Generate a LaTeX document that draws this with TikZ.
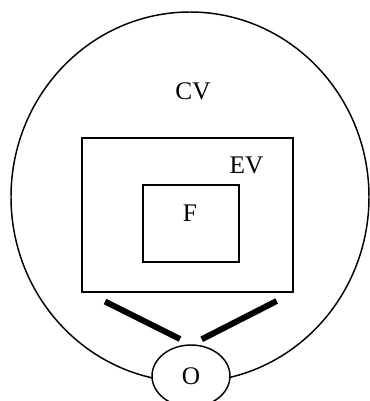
\documentclass[tikz,border=0pt]{standalone}
\usepackage{fontspec}
\setmainfont{Liberation Serif}
\usetikzlibrary{shapes.geometric}
\begin{document}
\begin{tikzpicture}[x=0.75pt, y=-0.75pt, font=\fontsize{19}{23}\selectfont,
	frame/.style={draw, line width=1.5pt, inner sep=0pt},
	bar/.style={line width=4.5pt}]
	\useasboundingbox (0,0) rectangle (369,401);
	\draw [line width=1.1pt] (190,197) ellipse [x radius=179, y radius=185];
	\node [frame, minimum width=158pt, minimum height=115.5pt] (ev) at (187.7,215) {};
	\node [frame, minimum width=72pt, minimum height=57.75pt] (f) at (190.9,223.5) {};
	\node [ellipse, draw, line width=1.1pt, fill=white, inner sep=0pt,
		minimum width=58.5pt, minimum height=46.5pt] (o) at (191,376) {O};
	\node (cv label) at (193,91) {CV};
	\node (ev label) at (246.5,165) {EV};
	\node (f label) at (190,213) {F};
	%\node (o label) at (188.5,377) {O};
	\coordinate (left top) at (105,301.5);
	\coordinate (left end) at (180,339);
	\coordinate (right top) at (276.7,301);
	\coordinate (right end) at (201.7,339.3);
	\draw [bar] (left top) -- (left end);
	\draw [bar] (right top) -- (right end);
\end{tikzpicture}
\end{document}
